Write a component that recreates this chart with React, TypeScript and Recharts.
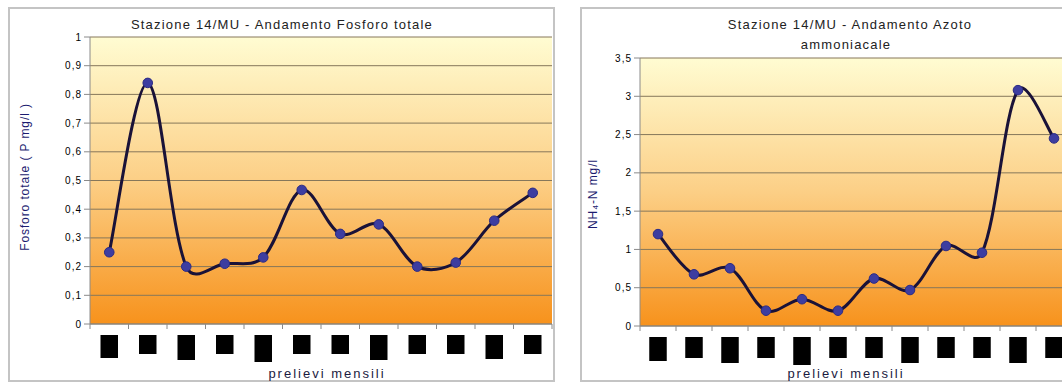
import React from 'react';
import { LineChart, Line, XAxis, YAxis, CartesianGrid } from 'recharts';

// Monthly samples (12 per station)
const samples = ['1', '2', '3', '4', '5', '6', '7', '8', '9', '10', '11', '12'];

// Total phosphorus (P mg/l)
const fosforoTotale = [0.25, 0.84, 0.2, 0.21, 0.232, 0.467, 0.314, 0.347, 0.2, 0.214, 0.36, 0.457];

// Ammonia nitrogen (NH4-N mg/l)
const azotoAmmoniacale = [1.2, 0.675, 0.754, 0.2, 0.35, 0.2, 0.62, 0.47, 1.045, 0.957, 3.08, 2.45];

const fosforoTicks = [0, 0.1, 0.2, 0.3, 0.4, 0.5, 0.6, 0.7, 0.8, 0.9, 1];
const azotoTicks = [0, 0.5, 1, 1.5, 2, 2.5, 3, 3.5];

// Heights of the masked month labels under each sample
const maskHeightsLeft = [23, 19, 25, 19, 27, 19, 19, 25, 19, 19, 24, 19];
const maskHeightsRight = [24, 21, 26, 21, 28, 21, 21, 26, 21, 21, 26, 21];

const FONT = '"Liberation Sans", Arial, sans-serif';
const GRID = '#86775a';
const AXIS = '#8a8a8a';
const LINE = '#1a1238';
const DOT = '#3d3da0';

const fosforoData = samples.map((s, i) => ({ campione: s, valore: fosforoTotale[i] }));
const azotoData = samples.map((s, i) => ({ campione: s, valore: azotoAmmoniacale[i] }));

const fmt = (v: number) => String(v).replace('.', ',');

// Smoothed line: cubic Bézier through every point; tangents are scaled by the
// relative length of neighbouring segments so short steps do not overshoot much.
function smoothCurve(context: any) {
  let pts: [number, number][] = [];
  const dist = (a: [number, number], b: [number, number]) => Math.hypot(b[0] - a[0], b[1] - a[1]) || 1;
  return {
    areaStart() {},
    areaEnd() {},
    lineStart() {
      pts = [];
    },
    point(x: number, y: number) {
      pts.push([+x, +y]);
    },
    lineEnd() {
      if (!pts.length) return;
      context.moveTo(pts[0][0], pts[0][1]);
      for (let i = 0; i < pts.length - 1; i++) {
        const p0 = pts[i - 1] ?? pts[i];
        const p1 = pts[i];
        const p2 = pts[i + 1];
        const p3 = pts[i + 2] ?? p2;
        const d01 = i > 0 ? dist(p0, p1) : dist(p1, p2);
        const d12 = dist(p1, p2);
        const d23 = i + 2 < pts.length ? dist(p2, p3) : d12;
        const k1 = Math.sqrt((2 * d12) / (d01 + d12)) / 6;
        const k2 = Math.sqrt((2 * d12) / (d12 + d23)) / 6;
        context.bezierCurveTo(
          p1[0] + (p2[0] - p0[0]) * k1,
          p1[1] + (p2[1] - p0[1]) * k1,
          p2[0] - (p3[0] - p1[0]) * k2,
          p2[1] - (p3[1] - p1[1]) * k2,
          p2[0],
          p2[1]
        );
      }
    },
  };
}

const makeTick = (heights: number[]) => (props: any) => {
  const { x, y, payload, index } = props;
  const half = payload && payload.offset ? payload.offset : 18;
  const last = index === samples.length - 1;
  return (
    <g>
      <line x1={x - half} y1={y} x2={x - half} y2={y + 5} stroke={AXIS} />
      {last && <line x1={x + half} y1={y} x2={x + half} y2={y + 5} stroke={AXIS} />}
      <rect x={x - 8.75} y={y + 11} width={17.5} height={heights[index] ?? 19} fill="#000" />
    </g>
  );
};

const panelStyle = (left: number, width: number): React.CSSProperties => ({
  position: 'absolute',
  left,
  top: 7,
  width,
  height: 375,
  boxSizing: 'border-box',
  border: '2px solid #c4c4c4',
  background: '#fff',
});

const textStyle = (cx: number, cy: number, extra: React.CSSProperties = {}): React.CSSProperties => ({
  position: 'absolute',
  left: cx,
  top: cy,
  transform: 'translate(-50%, -50%)',
  whiteSpace: 'nowrap',
  fontFamily: FONT,
  lineHeight: 1,
  ...extra,
});

const vTextStyle = (cx: number, cy: number, extra: React.CSSProperties = {}): React.CSSProperties => ({
  ...textStyle(cx, cy, extra),
  transform: 'translate(-50%, -50%) rotate(-90deg)',
});

export default function App() {
  return (
    <div
      style={{
        position: 'absolute',
        left: 0,
        top: 0,
        width: 1062,
        height: 387,
        overflow: 'hidden',
        background: '#fff',
      }}
    >
      {/* Phosphorus panel */}
      <div style={panelStyle(8, 547)} />
      <div style={{ position: 'absolute', left: 8, top: 7 }}>
        <LineChart width={547} height={375} data={fosforoData} margin={{ top: 30, right: 3, bottom: 0, left: 0 }}>
          <defs>
            <linearGradient id="bgFosforo" x1="0" y1="0" x2="0" y2="1">
              <stop offset="0%" stopColor="#fffcd2" />
              <stop offset="50%" stopColor="#fccf86" />
              <stop offset="100%" stopColor="#f7921c" />
            </linearGradient>
          </defs>
          <CartesianGrid vertical={false} fill="url(#bgFosforo)" fillOpacity={1} stroke={GRID} strokeOpacity={1} />
          <XAxis
            dataKey="campione"
            scale="band"
            height={58}
            stroke={AXIS}
            tickLine={false}
            tickSize={0}
            tickMargin={0}
            interval={0}
            tick={makeTick(maskHeightsLeft)}
          />
          <YAxis
            width={82}
            domain={[0, 1]}
            ticks={fosforoTicks}
            interval={0}
            tickFormatter={fmt}
            stroke={AXIS}
            tickSize={6}
            tickMargin={2}
            tick={{ fill: '#000', fontSize: 10, fontFamily: FONT, letterSpacing: 1 }}
          />
          <YAxis yAxisId="bordo" orientation="right" width={0} tick={false} tickLine={false} stroke={GRID} />
          <Line
            dataKey="valore"
            type={smoothCurve as any}
            stroke={LINE}
            strokeWidth={3}
            dot={{ r: 4.8, fill: DOT, stroke: '#2b2b85', strokeWidth: 1 }}
            isAnimationActive={false}
          />
        </LineChart>
      </div>
      <div style={textStyle(282, 24, { fontSize: 13, letterSpacing: 1.2, color: '#222' })}>
        Stazione 14/MU - Andamento Fosforo totale
      </div>
      <div style={vTextStyle(25, 177, { fontSize: 12, letterSpacing: 0.9, color: '#1c1c70' })}>
        Fosforo totale ( P mg/l )
      </div>
      <div style={textStyle(327, 373, { fontSize: 13, letterSpacing: 2, color: '#1a1a40' })}>prelievi mensili</div>

      {/* Ammonia nitrogen panel */}
      <div style={panelStyle(580, 536)} />
      <div style={{ position: 'absolute', left: 580, top: 7 }}>
        <LineChart width={536} height={375} data={azotoData} margin={{ top: 51, right: 44, bottom: 0, left: 0 }}>
          <defs>
            <linearGradient id="bgAzoto" x1="0" y1="0" x2="0" y2="1">
              <stop offset="0%" stopColor="#fffcd2" />
              <stop offset="50%" stopColor="#fccf86" />
              <stop offset="100%" stopColor="#f7921c" />
            </linearGradient>
          </defs>
          <CartesianGrid vertical={false} fill="url(#bgAzoto)" fillOpacity={1} stroke={GRID} strokeOpacity={1} />
          <XAxis
            dataKey="campione"
            scale="band"
            height={56}
            stroke={AXIS}
            tickLine={false}
            tickSize={0}
            tickMargin={0}
            interval={0}
            tick={makeTick(maskHeightsRight)}
          />
          <YAxis
            width={60}
            domain={[0, 3.5]}
            ticks={azotoTicks}
            interval={0}
            tickFormatter={fmt}
            stroke={AXIS}
            tickSize={6}
            tickMargin={2}
            tick={{ fill: '#000', fontSize: 10, fontFamily: FONT, letterSpacing: 1 }}
          />
          <YAxis yAxisId="bordo" orientation="right" width={0} tick={false} tickLine={false} stroke={GRID} />
          <Line
            dataKey="valore"
            type={smoothCurve as any}
            stroke={LINE}
            strokeWidth={3}
            dot={{ r: 4.8, fill: DOT, stroke: '#2b2b85', strokeWidth: 1 }}
            isAnimationActive={false}
          />
        </LineChart>
      </div>
      <div style={textStyle(850, 24, { fontSize: 13, letterSpacing: 1.2, color: '#222' })}>
        Stazione 14/MU - Andamento Azoto
      </div>
      <div style={textStyle(846, 44, { fontSize: 13, letterSpacing: 1.2, color: '#222' })}>ammoniacale</div>
      <div style={vTextStyle(593, 194, { fontSize: 12, letterSpacing: 0.9, color: '#1c1c70' })}>
        NH₄-N mg/l
      </div>
      <div style={textStyle(846, 373, { fontSize: 13, letterSpacing: 2, color: '#1a1a40' })}>prelievi mensili</div>
    </div>
  );
}
